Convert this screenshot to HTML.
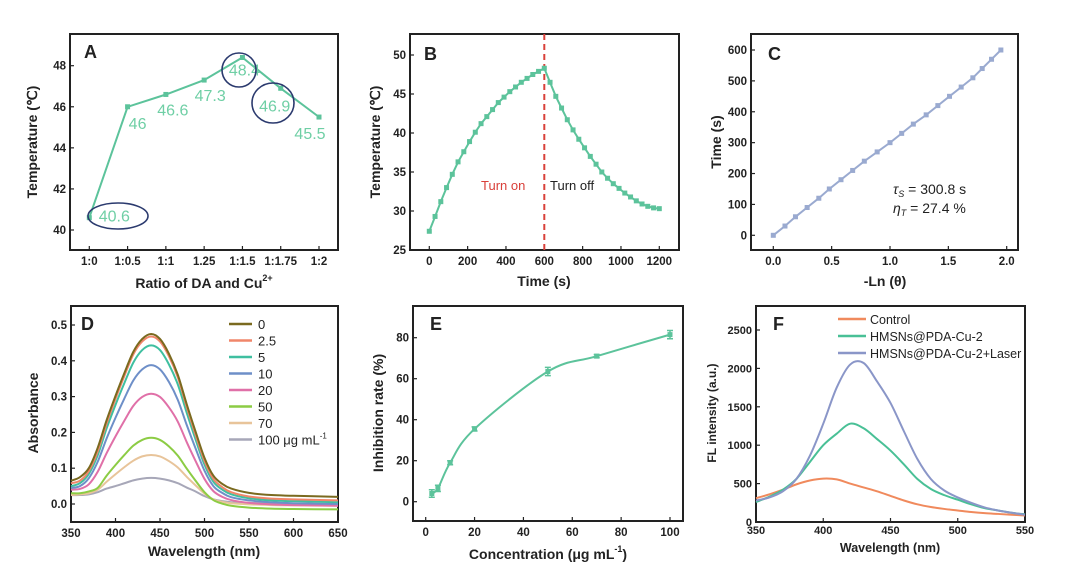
<!DOCTYPE html>
<html><head><meta charset="utf-8"><style>
html,body{margin:0;padding:0;background:#fff;}
svg{display:block;font-family:"Liberation Sans",Arial,sans-serif;}
</style></head><body>
<svg id="fig" width="1080" height="573" viewBox="0 0 1080 573" xmlns="http://www.w3.org/2000/svg"></svg>
<script>
// ---------- Data ----------
const aCats = ["1:0","1:0.5","1:1","1.25","1:1.5","1:1.75","1:2"];
const aVals = [40.6,46,46.6,47.3,48.4,46.9,45.5];
const aLabels = ["40.6","46","46.6","47.3","48.4","46.9","45.5"];

const bTimes = [0,30,60,90,120,150,180,210,240,270,300,330,360,390,420,450,480,510,540,570,600,630,660,690,720,750,780,810,840,870,900,930,960,990,1020,1050,1080,1110,1140,1170,1200];
const bTemps = [27.4,29.3,31.2,33,34.7,36.3,37.6,38.9,40.1,41.2,42.1,43,43.9,44.6,45.3,45.9,46.5,47,47.5,47.9,48.3,46.5,44.7,43.2,41.7,40.4,39.2,38.1,37,36,35,34.2,33.5,32.9,32.3,31.8,31.3,30.9,30.6,30.4,30.3];

const cX = [0,0.1,0.19,0.29,0.39,0.48,0.58,0.68,0.78,0.89,1.0,1.1,1.2,1.31,1.41,1.51,1.61,1.71,1.79,1.87,1.95];
const cY = [0,30,60,90,120,150,180,210,240,270,300,330,360,390,420,450,480,510,540,570,600];

const dWl = [350,360,370,380,390,400,410,420,430,440,450,460,470,480,490,500,510,520,530,550,575,600,650];
const dNames = ["0","2.5","5","10","20","50","70","100 μg mL⁻¹"];
const d0 = [0.065,0.075,0.10,0.157,0.234,0.302,0.366,0.425,0.461,0.475,0.461,0.42,0.361,0.279,0.202,0.129,0.079,0.056,0.043,0.031,0.025,0.023,0.02];
const d1 = [0.058,0.065,0.092,0.147,0.225,0.294,0.358,0.418,0.454,0.468,0.454,0.413,0.354,0.271,0.193,0.12,0.07,0.047,0.033,0.021,0.015,0.013,0.01];
const d2 = [0.05,0.058,0.084,0.136,0.211,0.277,0.338,0.395,0.43,0.443,0.43,0.39,0.334,0.255,0.18,0.11,0.062,0.04,0.027,0.016,0.01,0.008,0.005];
const d3 = [0.045,0.05,0.072,0.118,0.183,0.241,0.295,0.345,0.376,0.388,0.376,0.341,0.291,0.221,0.155,0.093,0.05,0.031,0.019,0.01,0.005,0.002,0];
const d4 = [0.04,0.042,0.055,0.09,0.142,0.189,0.233,0.274,0.299,0.308,0.299,0.27,0.23,0.173,0.12,0.07,0.036,0.02,0.011,0.003,-0.001,-0.003,-0.005];
const d5 = [0.03,0.03,0.035,0.045,0.079,0.109,0.137,0.163,0.179,0.185,0.179,0.161,0.135,0.099,0.065,0.033,0.011,0.001,-0.005,-0.01,-0.013,-0.014,-0.015];
const d6 = [0.025,0.027,0.03,0.04,0.062,0.083,0.103,0.121,0.133,0.137,0.133,0.12,0.102,0.076,0.052,0.029,0.013,0.006,0.002,-0.001,-0.003,-0.004,-0.005];
const d7 = [0.025,0.025,0.027,0.033,0.043,0.05,0.058,0.066,0.071,0.073,0.071,0.066,0.058,0.046,0.035,0.022,0.013,0.008,0.005,0.003,0.002,0.001,0];

const eConc = [2.5,5,10,20,50,70,100];
const eRate = [4,6.5,19,35.5,63.5,71,81.5];
const eErr = [1.8,1.5,1,1,2,0.8,2];

const fWl = [350,360,370,380,390,400,410,420,430,440,450,460,470,480,490,500,510,520,530,540,550];
const fNames = ["Control","HMSNs@PDA-Cu-2","HMSNs@PDA-Cu-2+Laser"];
const fCtrl = [310,360,420,490,540,565,555,500,450,400,340,280,230,195,170,150,130,115,105,95,85];
const fCu = [260,330,420,560,780,1000,1150,1280,1220,1080,930,750,560,430,350,290,230,180,150,120,100];
const fLaser = [280,320,400,560,860,1280,1750,2050,2070,1830,1550,1180,820,560,410,320,250,190,150,120,95];

// ---------- helpers ----------
const NS="http://www.w3.org/2000/svg";
const svg=document.getElementById('fig');
function el(tag,attrs,parent,text){const e=document.createElementNS(NS,tag);for(const k in attrs)e.setAttribute(k,attrs[k]);if(text!==undefined)e.textContent=text;(parent||svg).appendChild(e);return e;}
function lin(d0,d1,r0,r1){return v=>r0+(v-d0)*(r1-r0)/(d1-d0);}
function frame(g,b){const r=el('rect',{x:b.l,y:b.t,width:b.r-b.l,height:b.b-b.t,fill:'none',stroke:'#222','stroke-width':2},g);

}
function xTicks(g,b,vals,labels,sx,fs,dy){vals.forEach((v,i)=>{const x=sx(v);el('line',{x1:x,x2:x,y1:b.b,y2:b.b-4,stroke:'#222','stroke-width':1.2},g);
const t=el('text',{x:x,y:b.b+(dy||16),'text-anchor':'middle','font-size':fs||11.5,'font-weight':'bold',fill:'#222'},g,labels[i]);

});}
function yTicks(g,b,vals,labels,sy,fs){vals.forEach((v,i)=>{const y=sy(v);el('line',{x1:b.l,x2:b.l+4,y1:y,y2:y,stroke:'#222','stroke-width':1.2},g);
const t=el('text',{x:b.l-4,y:y+4,'text-anchor':'end','font-size':fs||11.5,'font-weight':'bold',fill:'#222'},g,labels[i]);

});}
function ytitle(g,x,y,txt,fs,name){const t=el('text',{x:x,y:y,transform:`rotate(-90 ${x} ${y})`,'text-anchor':'middle','font-size':fs||14,'font-weight':'bold',fill:'#222'},g,txt);

return t;}
function xtitle(g,x,y,txt,fs,name){const t=el('text',{x:x,y:y,'text-anchor':'middle','font-size':fs||14,'font-weight':'bold',fill:'#222'},g,txt);

return t;}
function letter(g,x,y,L){const t=el('text',{x:x,y:y,'font-size':18,'font-weight':'bold',fill:'#222'},g,L);

}
function poly(xs,ys,sx,sy){return xs.map((x,i)=>(i?'L':'M')+sx(x).toFixed(1)+','+sy(ys[i]).toFixed(1)).join('');}
function smooth(xs,ys,sx,sy){const P=xs.map((x,i)=>[sx(x),sy(ys[i])]);let d='M'+P[0].join(',');
for(let i=0;i<P.length-1;i++){const p0=P[i-1]||P[i],p1=P[i],p2=P[i+1],p3=P[i+2]||p2;
d+=`C${p1[0]+(p2[0]-p0[0])/6},${p1[1]+(p2[1]-p0[1])/6} ${p2[0]-(p3[0]-p1[0])/6},${p2[1]-(p3[1]-p1[1])/6} ${p2[0]},${p2[1]}`;}return d;}

// ---------- Panel A ----------
{const g=el('g',{});
const b={l:70,t:34,r:338,b:250};
const sx=i=>89.3+i*(319-89.3)/6, sy=lin(40,48,230,65.7);
frame(g,b);
xTicks(g,b,aCats.map((c,i)=>i),aCats,sx,11.5,15);
yTicks(g,b,[40,42,44,46,48],["40","42","44","46","48"],sy);
const p=el('path',{d:poly(aCats.map((c,i)=>i),aVals,sx,sy),fill:'none',stroke:'#5cc39b','stroke-width':2},g);

const off=[[25,-2],[10,16],[7,15],[6,15],[2,12],[-6,17],[-9,16]];
aVals.forEach((v,i)=>{const m=el('rect',{x:sx(i)-2.5,y:sy(v)-2.5,width:5,height:5,fill:'#5cc39b'},g);

const t=el('text',{x:sx(i)+off[i][0],y:sy(v)+off[i][1]+6,'text-anchor':'middle','font-size':16,fill:'#6fcfa5'},g,aLabels[i]);
});
[[118,216,30,13],[239,70,17,17],[273,103,21,20]].forEach(c=>{const e=el('ellipse',{cx:c[0],cy:c[1],rx:c[2],ry:c[3],fill:'none',stroke:'#2b3a6e','stroke-width':1.6},g);
});
letter(g,84,58,'A');
ytitle(g,37,142,'Temperature (℃)');
const xt=xtitle(g,204,288,'Ratio of  DA and Cu');el('tspan',{'font-size':9,dy:-7},xt,'2+');}

// ---------- Panel B ----------
{const g=el('g',{});
const b={l:410,t:34,r:679,b:250};
const sx=lin(0,1200,429.3,659.3), sy=lin(25,50,250,55);
frame(g,b);
xTicks(g,b,[0,200,400,600,800,1000,1200],["0","200","400","600","800","1000","1200"],sx,11.5,15);
yTicks(g,b,[25,30,35,40,45,50],["25","30","35","40","45","50"],sy);
const dl=el('line',{x1:sx(600),x2:sx(600),y1:b.t,y2:b.b,stroke:'#d9403a','stroke-width':2,'stroke-dasharray':'6,4'},g);

const p=el('path',{d:poly(bTimes,bTemps,sx,sy),fill:'none',stroke:'#5cc39b','stroke-width':2},g);

bTimes.forEach((t,i)=>{const m=el('rect',{x:sx(t)-2.5,y:sy(bTemps[i])-2.5,width:5,height:5,fill:'#5cc39b'},g);
});
const t1=el('text',{x:481,y:190,'font-size':13,fill:'#d9403a'},g,'Turn on');
const t2=el('text',{x:550,y:190,'font-size':13,fill:'#222'},g,'Turn off');
letter(g,424,60,'B');
ytitle(g,380,142,'Temperature (℃)');
xtitle(g,544,286,'Time (s)');}

// ---------- Panel C ----------
{const g=el('g',{});
const b={l:751,t:34,r:1018,b:250};
const sx=lin(0,2,773.3,1006.7), sy=lin(0,600,235.3,50);
frame(g,b);
xTicks(g,b,[0,0.5,1,1.5,2],["0.0","0.5","1.0","1.5","2.0"],sx,11.5,15);
yTicks(g,b,[0,100,200,300,400,500,600],["0","100","200","300","400","500","600"],sy);
const p=el('path',{d:poly(cX,cY,sx,sy),fill:'none',stroke:'#9aaad0','stroke-width':2},g);

cX.forEach((x,i)=>{const m=el('rect',{x:sx(x)-2.5,y:sy(cY[i])-2.5,width:5,height:5,fill:'#9aaad0'},g);
});
const a1=el('text',{x:893,y:194,'font-size':14,fill:'#222'},g);
el('tspan',{'font-style':'italic'},a1,'τ');el('tspan',{'font-style':'italic','font-size':9,dy:3},a1,'S');el('tspan',{dy:-3},a1,'  =  300.8 s');
const a2=el('text',{x:893,y:213,'font-size':14,fill:'#222'},g);
el('tspan',{'font-style':'italic'},a2,'η');el('tspan',{'font-style':'italic','font-size':9,dy:3},a2,'T');el('tspan',{dy:-3},a2,' =  27.4 %');
letter(g,768,60,'C');
ytitle(g,721,142,'Time (s)');
xtitle(g,885,286,'-Ln (θ)');}

// ---------- Panel D ----------
{const g=el('g',{});
const b={l:71,t:306,r:338,b:522};
const sx=lin(350,650,71,338), sy=lin(0,0.5,504,325);
frame(g,b);
xTicks(g,b,[350,400,450,500,550,600,650],["350","400","450","500","550","600","650"],sx,11.5,15);
yTicks(g,b,[0,0.1,0.2,0.3,0.4,0.5],["0.0","0.1","0.2","0.3","0.4","0.5"],sy);
const series=[d0,d1,d2,d3,d4,d5,d6,d7];
const cols=['#7a6a1f','#f0866a','#3fbfa0','#6e8fc8','#e070a8','#8ccc44','#e8c49a','#a7a7b8'];
for(let k=series.length-1;k>=0;k--){const p=el('path',{d:smooth(dWl,series[k],sx,sy),fill:'none',stroke:cols[k],'stroke-width':2},g);
}
dNames.forEach((n,k)=>{const y=324+k*16.5;const l=el('line',{x1:229,x2:252,y1:y,y2:y,stroke:cols[k],'stroke-width':2.5},g);

const t=el('text',{x:258,y:y+5,'font-size':13,fill:'#222'},g);
if(k===7){t.textContent='100 μg mL';el('tspan',{'font-size':8,dy:-6},t,'-1');}else t.textContent=n;});
letter(g,81,330,'D');
ytitle(g,38,413,'Absorbance');
xtitle(g,204,556,'Wavelength (nm)');}

// ---------- Panel E ----------
{const g=el('g',{});
const b={l:413,t:306,r:683,b:521};
const sx=lin(0,100,425.7,670), sy=lin(0,80,501.7,337.7);
frame(g,b);
xTicks(g,b,[0,20,40,60,80,100],["0","20","40","60","80","100"],sx,11.5,15);
yTicks(g,b,[0,20,40,60,80],["0","20","40","60","80"],sy);
const p=el('path',{d:smooth(eConc,eRate,sx,sy),fill:'none',stroke:'#5cc39b','stroke-width':2},g);

eConc.forEach((c,i)=>{const x=sx(c),y1=sy(eRate[i]-eErr[i]),y2=sy(eRate[i]+eErr[i]);
const e=el('path',{d:`M${x},${y1}V${y2}M${x-3},${y1}h6M${x-3},${y2}h6`,stroke:'#5cc39b','stroke-width':1.5,fill:'none'},g);

const m=el('rect',{x:x-2.5,y:sy(eRate[i])-2.5,width:5,height:5,fill:'#5cc39b'},g);
});
letter(g,430,330,'E');
ytitle(g,383,413,'Inhibition rate (%)');
const xt=xtitle(g,548,559,'Concentration (μg mL');el('tspan',{'font-size':9,dy:-7},xt,'-1');el('tspan',{dy:7},xt,')');}

// ---------- Panel F ----------
{const g=el('g',{});
const b={l:756,t:306,r:1025,b:522};
const sx=lin(350,550,756,1025), sy=lin(0,2500,522,330);
frame(g,b);
xTicks(g,b,[350,400,450,500,550],["350","400","450","500","550"],sx,11,12);
yTicks(g,b,[0,500,1000,1500,2000,2500],["0","500","1000","1500","2000","2500"],sy,11);
const series=[fCtrl,fCu,fLaser];const cols=['#f08a5d','#49c096','#8a96c8'];
series.forEach((s,k)=>{const p=el('path',{d:smooth(fWl,s,sx,sy),fill:'none',stroke:cols[k],'stroke-width':2},g);
});
fNames.forEach((n,k)=>{const y=319+k*17;const l=el('line',{x1:838,x2:866,y1:y,y2:y,stroke:cols[k],'stroke-width':2.5},g);

const t=el('text',{x:870,y:y+5,'font-size':12.5,fill:'#222'},g,n);});
letter(g,773,330,'F');
ytitle(g,716,413,'FL intensity (a.u.)',12);
xtitle(g,890,552,'Wavelength (nm)',12.5);}
</script>
</body></html>
